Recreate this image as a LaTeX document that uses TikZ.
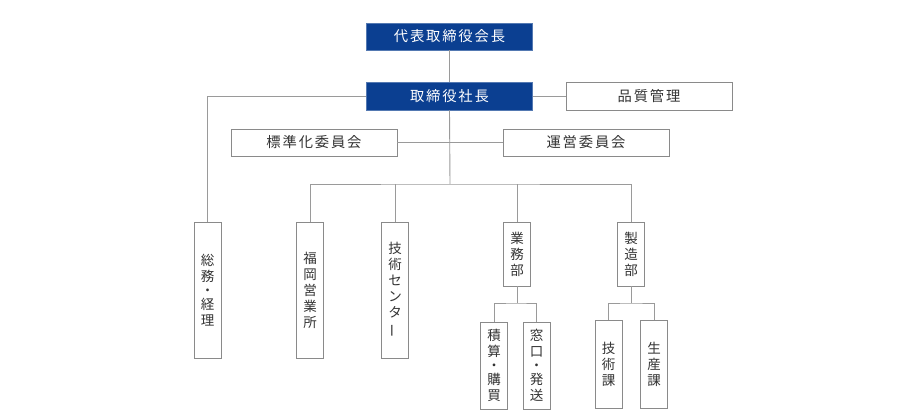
\documentclass[tikz,border=0pt]{standalone}
\usepackage{fontspec}
\usepackage{graphicx}
\newfontfamily\jp{Noto Sans CJK JP}
\newfontfamily\jph[LetterSpace=13]{Noto Sans CJK JP}
\definecolor{navy}{HTML}{0B3F91}
\definecolor{boxline}{HTML}{8A8A8A}
\definecolor{conn}{HTML}{9A9A9A}
\definecolor{txt}{HTML}{333333}
\tikzset{
  hbox/.style={draw=boxline, fill=white, line width=0.9pt, inner sep=0pt,
    minimum width=166pt, minimum height=27pt, text=txt, font=\jph\fontsize{14.3}{16}\selectfont},
  topbox/.style={hbox, draw=navy!70, fill=navy, text=white},
  vbox/.style={draw=boxline, fill=white, line width=0.9pt, inner sep=0pt,
    minimum width=27pt, text=txt, align=center, font=\jp\fontsize{13.5}{16}\selectfont},
  conn/.style={draw=conn, line width=0.9pt}
}
\newcommand{\vdot}{\\[-2pt]・\\[-2pt]}
\begin{document}
\begin{tikzpicture}[x=1pt,y=-1pt]
\useasboundingbox (0,0) rectangle (900,420);
% nodes
\node[topbox] (kaicho) at (449.5,36.5) {代表取締役会長};
\node[topbox, minimum height=28pt] (shacho) at (449.5,96) {取締役社長};
\node[hbox, minimum height=28pt] (hinshitsu) at (649,96) {品質管理};
\node[hbox] (hyojun) at (314,142.5) {標準化委員会};
\node[hbox] (unei) at (586,142.5) {運営委員会};
\node[vbox, minimum height=136pt] (somu) at (207.5,290) {総\\務\vdot 経\\理};
\node[vbox, minimum height=136pt] (fukuoka) at (310,290) {福\\岡\\営\\業\\所};
\node[vbox, minimum height=136pt] (center) at (395,290) {技\\術\\セ\\ン\\タ\\\rotatebox[origin=c]{90}{ー}};
\node[vbox, minimum height=64pt] (gyomu) at (517,254) {業\\務\\部};
\node[vbox, minimum height=64pt] (seizo) at (631,254) {製\\造\\部};
\node[vbox, minimum height=87pt] (sekisan) at (494,365.5) {積\\算\vdot 購\\買};
\node[vbox, minimum height=87pt] (madoguchi) at (536.5,365.5) {窓\\口\vdot 発\\送};
\node[vbox, minimum height=88pt] (gijutsuka) at (608.5,364) {技\\術\\課};
\node[vbox, minimum height=88pt] (seisan) at (654,364) {生\\産\\課};
% coordinates
\coordinate (bus) at (450,184);
\coordinate (gb) at (517,303);
\coordinate (sb) at (631,303);
% connectors
\draw[conn] (kaicho.south) -- (shacho.north);
\draw[conn] (shacho.east) -- (hinshitsu.west);
\draw[conn] (shacho.west) -| (somu.north);
\draw[conn] (shacho.south) -- (bus);
\draw[conn] (hyojun.east) -- (unei.west);
\draw[conn] (fukuoka.north) |- (bus) -| (seizo.north);
\draw[conn] (center.north) -- (center.north |- bus);
\draw[conn] (gyomu.north) -- (gyomu.north |- bus);
\draw[conn] (gyomu.south) -- (gb);
\draw[conn] (sekisan.north) |- (gb) -| (madoguchi.north);
\draw[conn] (seizo.south) -- (sb);
\draw[conn] (gijutsuka.north) |- (sb) -| (seisan.north);
\end{tikzpicture}
\end{document}
